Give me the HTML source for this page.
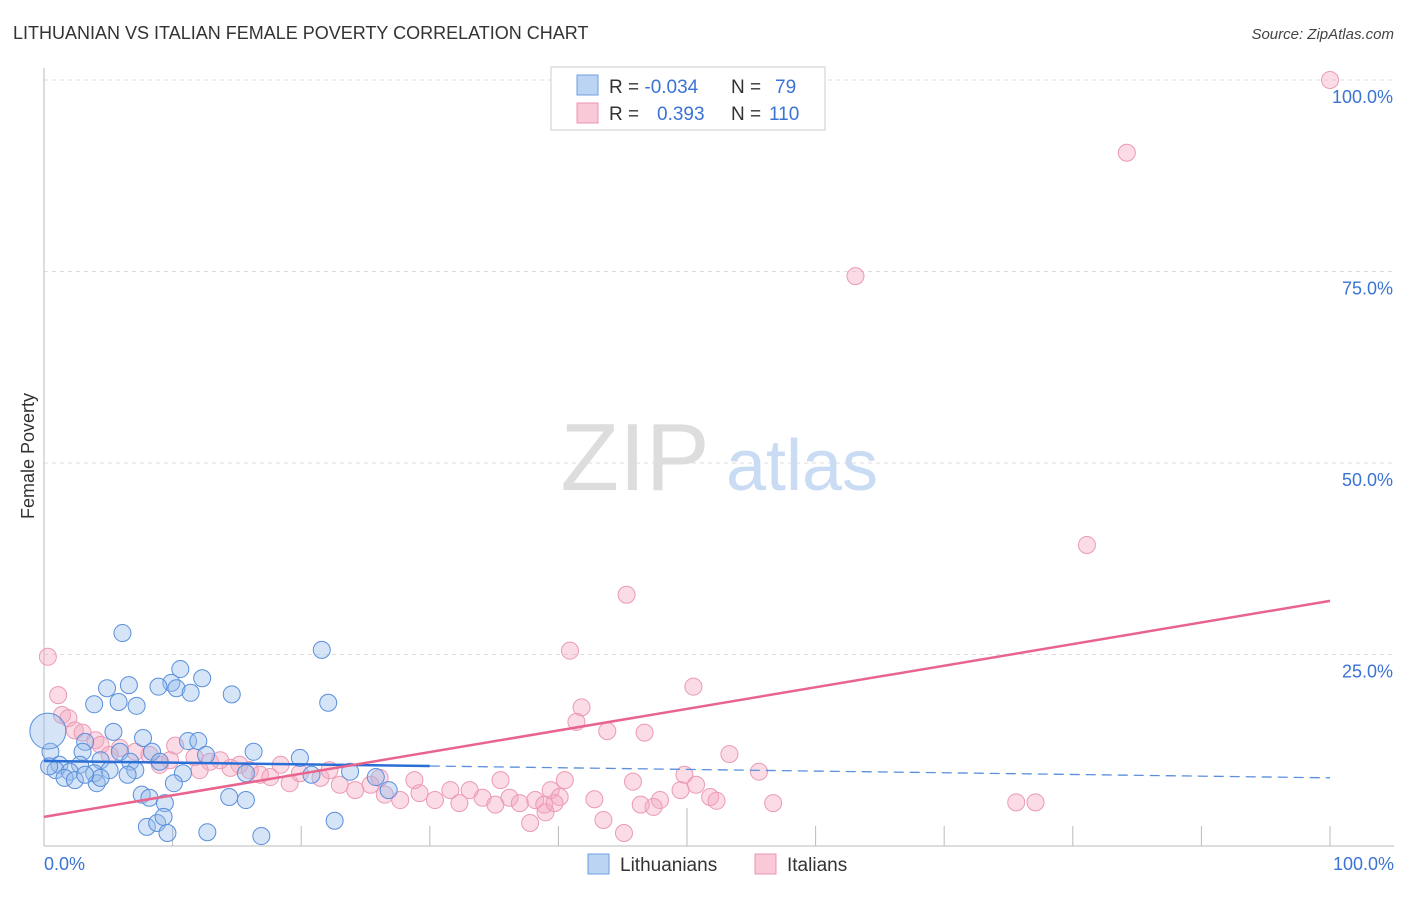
<!DOCTYPE html>
<html><head><meta charset="utf-8"><style>
body{margin:0;background:#fff;font-family:"Liberation Sans",sans-serif;}
svg text{font-family:"Liberation Sans",sans-serif;}
</style></head><body>
<svg id="chart" width="1406" height="892" xmlns="http://www.w3.org/2000/svg">
<text x="13" y="39" font-size="18" fill="#333">LITHUANIAN VS ITALIAN FEMALE POVERTY CORRELATION CHART</text>
<text x="1394" y="39" font-size="15" fill="#444" text-anchor="end" font-style="italic">Source: ZipAtlas.com</text>
<g id="grid"></g>
<g>
<text x="635" y="490" font-size="96" fill="#ddd" font-family="Liberation Serif,serif" text-anchor="middle">ZIP</text>
<text x="802" y="490" font-size="72" fill="#c9dcf3" text-anchor="middle">atlas</text>
</g>
<line x1="44" y1="68" x2="44" y2="846" stroke="#bbb"/>
<line x1="44" y1="846" x2="1394" y2="846" stroke="#bbb"/>
<text transform="translate(34,456) rotate(-90)" font-size="18" fill="#333" text-anchor="middle">Female Poverty</text>
<text x="44" y="870" font-size="18" fill="#3b73d4">0.0%</text>
<text x="1394" y="870" font-size="18" fill="#3b73d4" text-anchor="end">100.0%</text>
<g id="pts-it"></g>
<g id="pts-lt"></g>
<g id="lines"></g>
<g>
<rect x="551" y="67" width="274" height="63" fill="#fff" stroke="#ccc"/>
<rect x="577" y="75" width="21" height="20" fill="#bcd4f4" stroke="#6f9de0"/>
<rect x="577" y="103" width="21" height="20" fill="#f9c9d7" stroke="#ec95b0"/>
<text x="609" y="93" font-size="19" fill="#333">R = <tspan fill="#3b73d4">-0.034</tspan><tspan x="731">N = </tspan><tspan x="775" fill="#3b73d4">79</tspan></text>
<text x="609" y="120" font-size="19" fill="#333">R = <tspan x="657" fill="#3b73d4">0.393</tspan><tspan x="731">N = </tspan><tspan x="769" fill="#3b73d4">110</tspan></text>
</g>
<g>
<rect x="588" y="854" width="21" height="20" fill="#bcd4f4" stroke="#6f9de0"/>
<text x="620" y="871" font-size="19" fill="#333">Lithuanians</text>
<rect x="755" y="854" width="21" height="20" fill="#f9c9d7" stroke="#ec95b0"/>
<text x="787" y="871" font-size="19" fill="#333">Italians</text>
</g>
</svg>
<script>
const ltX=[6.1,21.6,10.6,12.3,6.6,9.9,8.9,4.9,10.3,11.4,14.6,3.9,5.8,7.2,22.1,5.4,3.2,7.7,11.2,12.0,0.5,3.0,5.9,8.4,12.6,16.3,19.9,1.2,2.8,4.4,6.7,9.0,0.9,2.0,3.9,5.1,7.1,1.6,2.4,4.1,4.4,6.5,10.8,15.7,20.8,23.8,25.8,26.8,10.1,7.6,8.2,9.4,14.4,15.7,22.6,8.0,8.8,9.3,9.6,12.7,16.9,0.4,3.2];
const ltY=[27.8,25.6,23.1,21.9,21.0,21.3,20.8,20.6,20.6,20.0,19.8,18.5,18.8,18.3,18.7,14.9,13.6,14.1,13.7,13.7,12.3,12.3,12.3,12.3,11.9,12.3,11.5,10.6,10.6,11.2,11.0,11.0,9.9,9.7,9.5,9.9,9.9,8.9,8.6,8.2,8.9,9.3,9.5,9.5,9.3,9.7,9.0,7.3,8.2,6.7,6.3,5.6,6.4,6.0,3.3,2.5,3.0,3.8,1.7,1.8,1.3,10.4,9.3];
const itX=[100,84.2,63.1,81.1,45.3,40.9,50.5,41.8,41.4,43.8,46.7,53.3,55.6,0.3,1.1,1.4,1.9,2.4,3.0,4.0,4.4,5.9,7.1,8.2,10.2,9.8,11.7,12.9,15.2,16.0,16.8,17.6,19.1,19.9,21.5,23.0,24.2,25.4,26.5,27.7,29.2,30.4,31.6,32.3,34.1,35.1,36.2,37.0,38.2,39.4,40.1,38.9,37.8,39.0,39.7,40.5,42.8,43.5,45.1,45.8,46.4,47.9,47.4,49.8,50.7,51.8,52.3,49.5,56.7,75.6,77.1,35.5,33.1,28.8,26.1,22.2,18.4,14.5,13.7,12.1,9.0,5.1];
const itY=[100,90.5,74.4,39.3,32.8,25.5,20.8,18.1,16.2,15.0,14.8,12.0,9.7,24.7,19.7,17.1,16.7,15.1,14.8,13.8,13.2,12.8,12.3,11.9,13.1,11.2,11.6,11.0,10.6,9.9,9.3,9.0,8.2,9.5,8.9,8.0,7.3,8.0,6.7,6.0,6.9,6.0,7.3,5.6,6.3,5.4,6.3,5.6,6.0,7.3,6.4,5.4,3.0,4.4,5.6,8.6,6.1,3.4,1.7,8.4,5.4,6.0,5.1,9.3,8.0,6.4,5.9,7.3,5.6,5.7,5.7,8.6,7.3,8.6,8.9,9.9,10.6,10.2,11.2,9.9,10.6,11.9];
const ltTrend=[11.1,8.9];
const itTrend=[3.8,32.0];
const yTicks=[25,50,75,100];
const yTickLabels=["25.0%","50.0%","75.0%","100.0%"];
const xTicks=[10,20,30,40,50,60,70,80,90,100];
const NS="http://www.w3.org/2000/svg";
const sx=v=>44+v*12.86, sy=v=>846-v*7.66;
function mk(t,a,p){const e=document.createElementNS(NS,t);for(const k in a)e.setAttribute(k,a[k]);p.appendChild(e);return e;}
const grid=document.getElementById('grid');
yTicks.forEach((t,i)=>{
 const l=mk('line',{x1:44,x2:1394,y1:sy(t),y2:sy(t),stroke:'#ddd','stroke-dasharray':'4,4'},grid);
 
 
 const tx=mk('text',{x:1393,y:sy(t)+23,'font-size':18,fill:'#3b73d4','text-anchor':'end'},grid);
 tx.textContent=yTickLabels[i];
 
 
});
xTicks.forEach(t=>{
 const l=mk('line',{x1:sx(t),x2:sx(t),y1:t===50?808:826,y2:846,stroke:'#bbb'},grid);
 
 
});
const gi=document.getElementById('pts-it');
itX.forEach((x,i)=>{
 const c=mk('circle',{cx:sx(x),cy:sy(itY[i]),r:8.5,fill:'rgba(246,168,192,0.4)',stroke:'#eb9ab3','stroke-width':1},gi);
 
 
});
const gl=document.getElementById('pts-lt');
ltX.forEach((x,i)=>{
 const c=mk('circle',{cx:sx(x),cy:sy(ltY[i]),r:8.5,fill:'rgba(150,188,236,0.4)',stroke:'#5a8fdc','stroke-width':1},gl);
 
 
});
const big=mk('circle',{cx:sx(0.3),cy:sy(15),r:18,fill:'rgba(150,188,236,0.4)',stroke:'#5a8fdc'},gl);


const gL=document.getElementById('lines');
const ly=x=>ltTrend[0]+(ltTrend[1]-ltTrend[0])*x/100;
const l1=mk('line',{x1:sx(0),y1:sy(ly(0)),x2:sx(30),y2:sy(ly(30)),stroke:'#2a6fd6','stroke-width':2.5},gL);


const l2=mk('line',{x1:sx(30),y1:sy(ly(30)),x2:sx(100),y2:sy(ly(100)),stroke:'#5a8fdc','stroke-width':1.3,'stroke-dasharray':'10,6'},gL);


const l3=mk('line',{x1:sx(0),y1:sy(itTrend[0]),x2:sx(100),y2:sy(itTrend[1]),stroke:'#e8648e','stroke-width':2.5},gL);


</script>
</body></html>
